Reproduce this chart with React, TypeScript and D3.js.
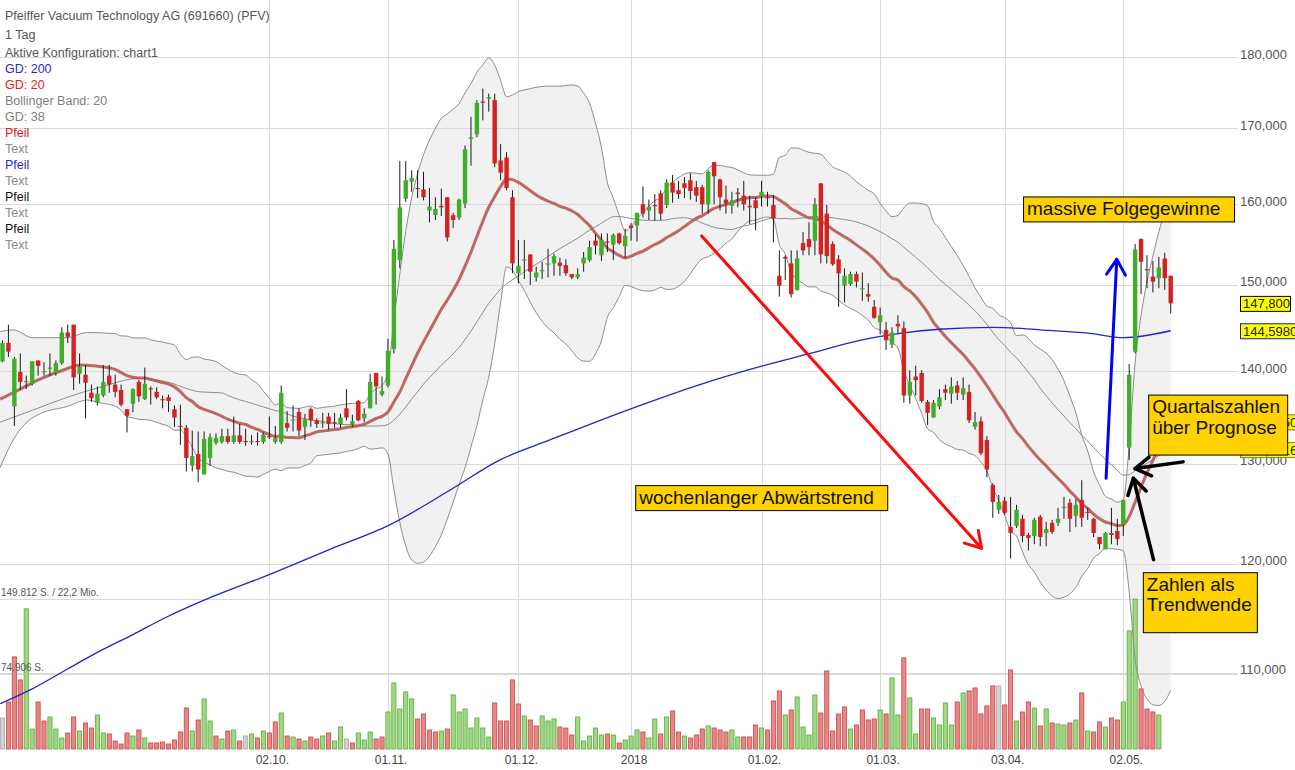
import React from "react";
import * as d3 from "d3";

const W = 1295;
const H = 770;
const FONT = "Arial, 'Liberation Sans', Helvetica, sans-serif";

// ---- daily candles (EUR) ----
const opens = [
  141.1,143.2,136.1,139.9,138.8,138.6,141.2,139.9,140.3,139.8,
  140.9,144.4,145.3,139.7,139.6,137.6,136.5,137.3,139.5,138.5,
  137.9,135.8,136.4,138.8,136.9,138.1,137.7,136.9,137.1,135.8,
  134.0,133.8,129.8,131.0,128.9,130.6,132.2,132.3,132.9,132.3,
  133.0,132.4,132.3,132.4,132.3,132.9,132.3,132.3,134.3,134.6,
  135.5,133.9,135.8,134.6,134.3,135.0,134.4,134.2,135.9,134.1,
  136.7,134.8,135.9,139.8,137.4,138.4,142.5,153.0,160.7,162.9,
  162.1,161.9,159.2,158.6,159.8,160.9,158.6,158.3,160.1,168.6,
  169.2,173.7,174.1,173.9,165.7,166.1,160.9,151.4,153.0,153.7,
  150.9,151.7,152.5,152.6,152.7,152.4,151.3,150.9,152.6,153.0,
  155.4,153.6,155.3,154.9,156.3,154.7,157.3,157.3,160.0,159.2,
  159.9,161.4,159.9,162.8,161.8,162.7,163.1,162.2,162.2,160.0,
  165.5,163.2,160.6,159.8,161.5,161.1,159.8,160.5,161.0,160.9,
  159.9,151.1,153.4,152.6,149.4,155.1,155.6,155.4,162.7,158.8,
  155.0,153.1,149.9,150.1,151.3,149.5,148.9,147.4,145.6,144.7,
  143.0,145.4,144.9,137.3,139.4,139.8,136.6,134.9,136.1,138.0,
  137.5,138.4,137.4,137.7,133.9,134.5,132.5,127.8,125.3,126.2,
  123.6,123.7,124.4,122.8,122.7,124.6,123.0,124.0,124.0,125.5,
  126.0,124.7,126.3,125.1,124.4,122.6,121.4,123.0,123.2,123.8,
  131.7,142.2,155.6,151.9,151.0,150.8,153.2,151.1
];
const highs = [
  143.5,145.3,141.6,142.0,139.5,141.1,141.2,141.0,142.0,141.2,
  145.0,145.3,145.3,142.0,140.7,138.5,138.3,140.7,140.7,139.6,
  138.5,135.8,138.1,139.0,140.4,138.3,138.2,137.3,137.4,136.2,
  136.3,134.1,133.5,133.4,133.4,133.2,133.2,133.7,133.7,135.0,
  134.2,133.7,133.0,133.3,133.3,135.0,134.0,138.4,135.6,136.2,
  135.9,135.3,136.0,134.8,135.4,135.4,135.4,135.3,138.0,135.2,
  136.8,135.9,139.7,139.8,139.4,143.7,155.5,165.6,165.6,164.4,
  164.4,164.2,162.1,160.9,162.0,160.9,158.9,160.7,167.7,171.6,
  173.9,175.5,174.8,174.8,167.9,166.8,161.8,155.5,155.5,153.7,
  152.2,152.8,154.4,153.8,153.3,153.1,151.3,152.0,154.0,155.4,
  156.2,156.3,156.3,156.3,156.4,156.9,157.6,158.9,162.3,160.6,
  161.3,161.8,163.2,163.8,163.0,163.5,164.0,163.0,162.5,164.4,
  165.5,163.3,162.4,161.6,162.1,163.0,161.1,160.9,163.0,161.6,
  161.2,154.2,153.6,154.2,154.2,156.5,157.7,160.8,162.7,159.9,
  155.3,153.6,152.0,151.6,151.6,151.5,150.2,148.2,147.3,145.6,
  145.0,146.4,145.7,140.1,140.6,140.1,136.8,136.8,138.0,138.5,
  139.3,138.9,139.3,138.5,135.5,135.0,132.9,128.0,126.8,126.6,
  126.6,125.8,124.8,123.0,124.5,124.8,124.1,124.3,125.5,126.6,
  126.4,126.4,128.3,125.5,124.5,122.6,123.1,125.5,124.4,126.3,
  140.8,155.0,155.7,153.6,152.9,153.4,153.9,151.1
];
const lows = [
  141.0,141.6,134.0,137.9,138.0,138.4,139.5,139.5,139.5,139.5,
  140.7,143.2,137.9,138.6,134.8,136.6,136.2,137.1,137.6,137.1,
  136.1,133.3,135.5,136.6,136.8,136.3,136.9,135.9,135.5,133.9,
  132.0,129.2,129.2,128.1,128.9,129.8,132.0,132.1,132.1,132.1,
  132.1,131.9,132.0,131.9,132.1,132.6,132.1,132.1,133.4,133.4,
  132.9,132.5,133.9,133.8,133.8,133.6,133.8,133.8,134.6,133.9,
  134.5,134.4,135.9,136.3,137.2,138.2,142.0,152.0,160.3,161.6,
  160.8,160.5,157.7,158.0,158.5,155.3,157.0,158.0,159.5,165.0,
  168.8,171.1,172.3,164.8,163.1,161.8,151.4,150.2,150.7,150.0,
  150.4,150.7,150.9,151.1,151.1,151.1,150.7,150.7,151.6,152.8,
  153.7,152.9,154.0,153.0,154.9,153.3,155.4,155.3,158.3,158.0,
  157.9,158.0,159.5,160.2,160.7,160.8,160.6,160.3,158.8,158.8,
  160.0,159.2,158.8,158.8,159.6,159.2,157.5,156.7,159.7,159.7,
  155.2,148.6,150.6,148.5,149.3,153.6,153.6,153.6,152.6,152.6,
  152.3,147.4,147.9,149.9,149.7,148.1,148.0,146.0,144.2,142.4,
  142.6,144.3,136.5,136.4,137.3,136.5,134.1,134.9,135.8,136.8,
  136.4,136.8,136.8,134.3,133.6,130.9,128.6,124.5,124.9,124.8,
  120.5,123.5,122.1,121.3,121.9,121.7,121.7,122.9,123.7,124.4,
  123.1,123.6,123.6,124.3,122.6,121.4,121.4,121.9,121.8,122.7,
  130.4,142.0,148.9,149.6,149.1,149.6,149.4,146.6
];
const closes = [
  143.2,142.2,141.4,138.8,138.9,141.1,140.6,140.0,140.4,140.9,
  144.4,143.9,139.3,140.5,138.7,137.0,137.5,138.8,138.5,137.7,
  136.3,135.1,138.0,137.2,138.6,138.0,137.1,136.8,136.7,134.9,
  133.9,130.6,130.8,129.4,132.6,132.8,132.7,132.9,132.3,133.0,
  132.3,132.3,132.4,132.3,133.1,132.8,132.7,137.6,133.8,134.7,
  133.5,134.7,134.6,134.2,134.4,134.2,134.3,134.9,134.9,134.5,
  134.6,135.3,138.8,138.3,137.8,142.3,154.4,159.6,163.1,163.4,
  162.0,160.9,159.7,159.4,159.6,155.8,158.0,160.6,167.2,168.8,
  173.5,173.6,174.3,165.3,164.1,162.1,152.6,152.3,153.1,151.6,
  151.5,151.8,152.6,153.5,152.3,151.4,150.9,151.3,153.3,154.6,
  154.8,155.5,155.2,156.1,155.1,156.0,157.0,158.9,158.8,159.7,
  159.8,158.8,162.8,161.5,161.3,162.1,161.7,161.1,160.0,164.2,
  163.6,160.9,160.1,160.5,161.3,160.0,159.6,159.5,161.6,160.8,
  158.2,149.9,153.2,148.9,153.2,154.2,154.6,160.0,153.7,153.5,
  152.5,151.4,151.1,151.3,150.4,149.6,148.6,146.1,146.4,143.5,
  144.4,145.1,137.3,138.8,139.0,136.7,135.4,136.5,137.1,137.6,
  138.3,137.6,138.1,134.6,134.4,131.1,129.4,126.1,126.1,125.0,
  123.0,125.3,122.7,122.5,124.3,122.6,123.4,123.1,124.4,125.6,
  124.4,125.8,124.5,125.0,123.0,121.9,123.0,122.8,122.4,126.3,
  139.6,154.3,152.8,151.8,150.4,152.1,150.8,147.8
];
// volume in thousand shares (null = no bar yet)
const volumesK = [
  31,47,92,69,140,20,47,28,32,20,
  11,16,32,18,26,21,34,16,15,8,
  5,16,13,19,11,6,6,7,5,9,
  17,41,18,29,50,28,13,10,18,19,
  8,13,15,11,18,16,27,36,13,12,
  10,8,12,10,13,16,8,22,10,6,
  16,9,17,10,12,37,66,40,57,50,
  30,35,19,17,18,20,54,37,40,21,
  31,21,12,46,28,28,69,45,33,29,
  23,33,28,30,22,21,14,32,8,13,
  21,14,15,14,6,9,13,19,17,11,
  30,15,32,38,17,13,11,14,20,23,
  21,19,17,19,12,12,12,24,21,19,
  48,58,34,39,52,22,14,54,36,78,
  18,35,42,20,24,39,29,30,39,35,
  71,34,91,51,15,40,40,31,24,46,
  24,47,56,58,61,35,43,63,63,44,
  79,28,37,47,41,23,40,26,25,24,
  26,29,56,18,17,27,22,31,29,47,
  118,149.812,60,40,37,34,null,null
];

// ---- axes ----
const dateTickIndex = [45, 65, 87, 106, 128, 148, 169, 189];
const dateTickLabels = ["02.10.", "01.11.", "01.12.", "2018", "01.02.", "01.03.", "03.04.", "02.05."];
const priceTicks = [110, 120, 130, 140, 150, 160, 170, 180];
const volumeTicks = [74906, 149812];
const volumeTickLabels = ["74.906 S.", "149.812 S. / 22,2 Mio."];

// ---- indicator values read before the averaging window is full ----
const sma20EarlyIdx = [-0.4, 3, 6.3, 11, 13, 15.3];
const sma20EarlyVal = [136.9, 138.0, 139.1, 140.3, 140.7, 140.6];
const upperEarlyIdx = [-0.4, 1.8, 5.1, 10.9, 14.3];
const upperEarlyVal = [144.5, 144.7, 143.8, 143.8, 144.4];
const lowerEarlyIdx = [-0.4, 1.8, 4.1, 6.3, 10.9, 14.3, 16.4];
const lowerEarlyVal = [129.6, 132.5, 134.4, 135.3, 136.1, 136.8, 136.5];
const sma38EarlyIdx = [-0.4, 5.1, 10.9, 16.4, 23.2, 27.7, 33.3];
const sma38EarlyVal = [134.4, 135.7, 137.1, 138.2, 139.2, 138.8, 137.7];
// GD 200 (needs history not shown)
const sma200Idx = [-0.4, 5.1, 10.9, 16.4, 22, 27.7, 33.3, 45.1, 55.2, 65.3, 75.5, 83.9, 92.3, 100.8, 109.2, 117.6, 127.7, 136.2, 144.6, 151.4, 158.6, 167, 175, 183.4, 189, 197];
const sma200Val = [107.3, 108.6, 110.3, 111.9, 113.4, 115.0, 116.4, 119.0, 121.4, 123.8, 127.3, 130.4, 132.5, 134.6, 136.6, 138.5, 140.5, 142.0, 143.5, 144.3, 144.8, 145.0, 144.7, 144.3, 143.8, 144.598];

// ---- legend ----
const legendTexts = [
  "Pfeiffer Vacuum Technology AG (691660) (PFV)", "1 Tag", "Aktive Konfiguration: chart1",
  "GD: 200", "GD: 20", "Bollinger Band: 20", "GD: 38",
  "Pfeil", "Text", "Pfeil", "Text", "Pfeil", "Text", "Pfeil", "Text"
];
const legendColors = [
  "#555", "#555", "#555", "#2a2acc", "#e02222", "#808080", "#808080",
  "#e02222", "#8a8a8a", "#2a2acc", "#8a8a8a", "#111", "#8a8a8a", "#111", "#8a8a8a"
];

// ---- drawn annotations (anchored in index / price) ----
const arrowFrom = [[117.9, 156.0], [186.1, 128.5], [199.1, 130.2], [194.1, 120.4]];
const arrowTo = [[165.1, 121.5], [187.9, 153.1], [191.0, 129.5], [190.7, 128.5]];
const arrowColors = ["#ff0a0a", "#0000ff", "#000", "#000"];
const noteTexts = [["wochenlanger Abwärtstrend"], ["massive Folgegewinne"], ["Quartalszahlen", "über Prognose"], ["Zahlen als", "Trendwende"]];
const noteAnchors = [[106.7, 127.8], [172.1, 161.0], [193.2, 137.4], [192.3, 119.2]];

const fmt = (v: number, d: number) => v.toFixed(d).replace(".", ",");

export default function App() {
  const N = closes.length;
  const step = 5.93;
  const xS = d3.scaleLinear().domain([0, N - 1]).range([2.5, 2.5 + (N - 1) * step]);
  const yS = d3.scaleLog().domain([110, 180]).range([672.6, 57]);
  const vS = d3.scaleLinear().domain([0, 149812]).range([749, 599]);

  // computed indicators
  const sma20: [number, number][] = sma20EarlyIdx.map((d, k) => [d, sma20EarlyVal[k]]);
  const upper: [number, number][] = upperEarlyIdx.map((d, k) => [d, upperEarlyVal[k]]);
  const lower: [number, number][] = lowerEarlyIdx.map((d, k) => [d, lowerEarlyVal[k]]);
  for (let i = 19; i < N; i++) {
    const w = closes.slice(i - 19, i + 1);
    const m = d3.mean(w) as number;
    const sd = Math.sqrt(d3.mean(w, (v) => (v - m) * (v - m)) as number);
    sma20.push([i, m]);
    upper.push([i, m + 2 * sd]);
    lower.push([i, m - 2 * sd]);
  }
  const sma38: [number, number][] = sma38EarlyIdx.map((d, k) => [d, sma38EarlyVal[k]]);
  for (let i = 37; i < N; i++) {
    sma38.push([i, d3.mean(closes.slice(i - 37, i + 1)) as number]);
  }
  const sma200: [number, number][] = sma200Idx.map((d, k) => [d, sma200Val[k]]);

  const line = d3
    .line<[number, number]>()
    .x((d) => xS(d[0]))
    .y((d) => yS(d[1]))
    .curve(d3.curveMonotoneX);
  const upPath = line(upper) as string;
  const loRev = line(lower.slice().reverse()) as string;
  const bandPath = upPath + "L" + loRev.slice(1) + "Z";

  const bodyW = 4.4;
  const volW = 4.2;
  const gridRight = 1238;

  const last = N - 1;
  const lastLabels = [
    { v: sma20[sma20.length - 1][1], text: fmt(sma20[sma20.length - 1][1], 4), stroke: "#c0504d" },
    { v: sma38[sma38.length - 1][1], text: fmt(sma38[sma38.length - 1][1], 4), stroke: "#777" },
    { v: sma200Val[sma200Val.length - 1], text: fmt(sma200Val[sma200Val.length - 1], 4), stroke: "#1a1ab0" },
    { v: closes[last], text: fmt(closes[last], 3), stroke: "#000" },
  ];

  const arrowHead = (fx: number, fy: number, tx: number, ty: number, len: number, ang: number) => {
    const a = Math.atan2(fy - ty, fx - tx);
    const p1 = [tx + len * Math.cos(a + ang), ty + len * Math.sin(a + ang)];
    const p2 = [tx + len * Math.cos(a - ang), ty + len * Math.sin(a - ang)];
    return `M${p1[0]},${p1[1]}L${tx},${ty}L${p2[0]},${p2[1]}`;
  };

  return (
    <svg
      width={W}
      height={H}
      style={{ position: "absolute", left: 0, top: 0, background: "#fff" }}
      fontFamily={FONT}
    >
      <rect x={0} y={0} width={W} height={H} fill="#fff" />
      {/* bollinger fill */}
      <path d={bandPath} fill="#f1f1f1" stroke="none" />

      {/* grid */}
      {priceTicks.map((t) => (
        <line key={"g" + t} x1={0} x2={gridRight} y1={Math.round(yS(t)) + 0.5} y2={Math.round(yS(t)) + 0.5} stroke="#d9d9d9" />
      ))}
      {volumeTicks.map((t) => (
        <line key={"vg" + t} x1={0} x2={gridRight} y1={Math.round(vS(t)) + 0.5} y2={Math.round(vS(t)) + 0.5} stroke="#d9d9d9" />
      ))}
      {dateTickIndex.map((t) => (
        <line key={"xg" + t} x1={Math.round(xS(t)) + 0.5} x2={Math.round(xS(t)) + 0.5} y1={0} y2={750} stroke="#d9d9d9" />
      ))}

      {/* volume */}
      {volumesK.map((v, i) => {
        if (v == null) return null;
        const up = i === 0 ? 0 : closes[i] - closes[i - 1];
        const fill = i === 0 || up === 0 ? "#d2d2d2" : up > 0 ? "#9ed883" : "#e98585";
        const stroke = i === 0 || up === 0 ? "#a8a8a8" : up > 0 ? "#5fa83f" : "#c24b4b";
        const y = vS(v * 1000);
        return (
          <rect key={"v" + i} x={xS(i) - volW / 2} y={y} width={volW} height={vS(0) - y} fill={fill} stroke={stroke} strokeWidth={0.8} />
        );
      })}

      {/* indicator lines */}
      <path d={upPath} fill="none" stroke="#8c8c8c" strokeWidth={1} />
      <path d={line(lower) as string} fill="none" stroke="#8c8c8c" strokeWidth={1} />
      <path d={line(sma38) as string} fill="none" stroke="#8c8c8c" strokeWidth={1} />
      <path d={line(sma20) as string} fill="none" stroke="#b4504d" strokeOpacity={0.85} strokeWidth={3} />
      <path d={line(sma200) as string} fill="none" stroke="#2424c8" strokeWidth={1.3} />

      {/* candles */}
      {closes.map((c, i) => {
        const o = opens[i];
        const x = xS(i);
        const top = yS(Math.max(o, c));
        const bot = yS(Math.min(o, c));
        const col = c >= o ? "#3fae28" : "#d42222";
        return (
          <g key={"c" + i}>
            <line x1={x} x2={x} y1={yS(highs[i])} y2={yS(lows[i])} stroke="#1a1a1a" strokeWidth={1} />
            <rect x={x - bodyW / 2} y={top} width={bodyW} height={Math.max(1.2, bot - top)} fill={col} />
          </g>
        );
      })}

      {/* right axis labels */}
      {priceTicks.map((t) => (
        <text key={"pt" + t} x={1240} y={yS(t) + 1.5} fontSize={13} fill="#555">
          {fmt(t, 3)}
        </text>
      ))}
      {lastLabels.map((l, k) => (
        <g key={"ll" + k}>
          <rect x={1240.5} y={yS(l.v) - 7} width={k === 3 ? 50 : 58} height={15} fill="#ffff00" stroke={l.stroke} strokeWidth={1} />
          <text x={1243} y={yS(l.v) + 5} fontSize={13} fill="#222">
            {l.text}
          </text>
        </g>
      ))}

      {/* volume labels */}
      {volumeTicks.map((t, k) => (
        <text key={"vt" + t} x={1} y={vS(t) - 3} fontSize={10} fill="#555">
          {volumeTickLabels[k]}
        </text>
      ))}

      {/* date labels */}
      {dateTickIndex.map((t, k) => (
        <text key={"dt" + t} x={xS(t) + 3} y={764} fontSize={12} fill="#444" textAnchor="middle">
          {dateTickLabels[k]}
        </text>
      ))}

      {/* legend */}
      {legendTexts.map((t, k) => (
        <text key={"lg" + k} x={5} y={k < 3 ? 20 + k * 18.7 : 73.3 + (k - 3) * 16} fontSize={12.5} fill={legendColors[k]}>
          {t}
        </text>
      ))}

      {/* arrows */}
      {arrowFrom.map((f, k) => {
        const fx = xS(f[0]), fy = yS(f[1]);
        const tx = xS(arrowTo[k][0]), ty = yS(arrowTo[k][1]);
        const w = k >= 2 ? 3.5 : 3;
        return (
          <g key={"a" + k} stroke={arrowColors[k]} strokeWidth={w} fill="none" strokeLinecap="round" strokeLinejoin="round">
            <line x1={fx} y1={fy} x2={tx} y2={ty} />
            <path d={arrowHead(fx, fy, tx, ty, 18, 0.55)} />
          </g>
        );
      })}

      {/* notes */}
      {noteTexts.map((lines, k) => {
        const x = xS(noteAnchors[k][0]);
        const y = yS(noteAnchors[k][1]);
        const fs = 19;
        const wBox = k === 0 ? 252 : k === 1 ? 211 : k === 2 ? 139 : 114;
        const hBox = lines.length > 1 ? 60 : 25;
        return (
          <g key={"n" + k}>
            <rect x={x + 0.5} y={y + 0.5} width={wBox} height={hBox} fill="#ffd200" stroke="#000" strokeWidth={1} />
            {lines.map((ln, j) => (
              <text key={j} x={x + 4} y={y + 18.5 + j * 20.5} fontSize={fs} fill="#111">
                {ln}
              </text>
            ))}
          </g>
        );
      })}
    </svg>
  );
}
